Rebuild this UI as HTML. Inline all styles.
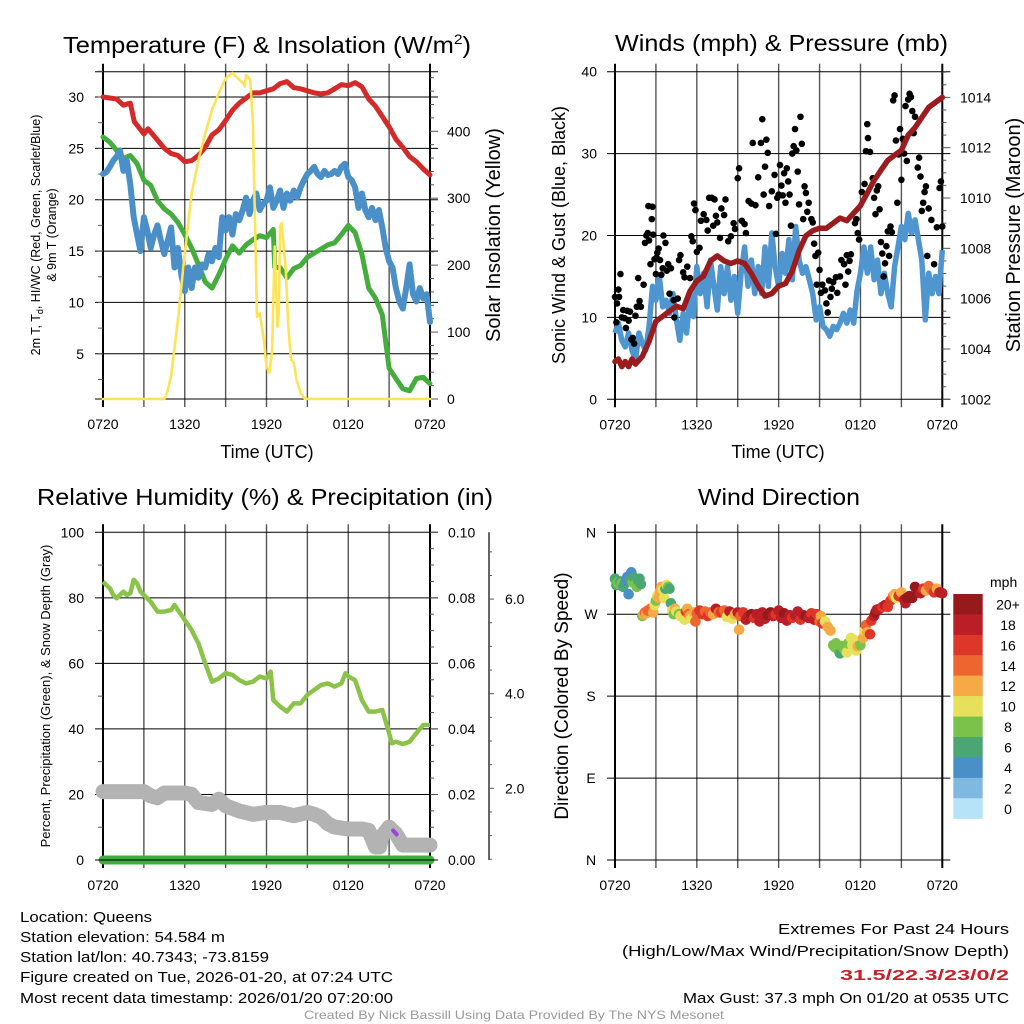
<!DOCTYPE html>
<html><head><meta charset="utf-8"><style>
html,body{margin:0;padding:0;background:#fff;}
svg{display:block;font-family:"Liberation Sans",sans-serif;}
</style></head><body>
<svg id="chart" width="1024" height="1024" viewBox="0 0 1024 1024" xmlns="http://www.w3.org/2000/svg"></svg>
<script>
// ---------- DATA ----------
const hourTicks = [0, 6, 12, 18, 24];
const hourTickLabels = ["0720", "1320", "1920", "0120", "0720"];
// Temperature panel
const tempTimes = [0,1,1.5,2,2.3,3,3.3,4,4.5,5,5.5,6,6.5,7,7.5,8,8.5,9,9.5,10,10.5,11,11.5,12,12.5,13,13.5,14,14.5,15,15.5,16,16.5,17,17.5,18,18.5,19,19.5,20,20.5,21,21.5,22,22.5,23,23.5,24];
const tempValues = [30,29.8,29.2,29.4,27.6,26.4,26.9,25.8,25,24.5,24.3,23.7,23.8,24.3,25.1,26.3,26.8,27.7,28.7,29.4,29.9,30.4,30.4,30.6,30.8,31.3,31.5,30.9,30.8,30.6,30.4,30.3,30.4,30.8,31.2,31.1,31.4,31.0,29.8,29.1,28.1,27.1,25.9,25.1,24.2,23.7,23.0,22.4];
const dewTimes = [0,0.5,1,1.5,2,2.5,3,3.5,4,4.5,5,5.5,6,6.5,7,7.5,8,8.5,9,9.5,10,10.5,11,11.5,12,12.5,12.6,13,13.5,14,14.5,15,15.5,16,16.5,17,17.5,18,18.5,19,19.5,20,20.5,21,21.5,22,22.5,23,23.5,24];
const dewValues = [26.1,25.6,24.8,24,24.3,23.5,21.9,21.4,19.9,19.1,18.6,17.8,16.6,15.3,13.7,12,11.4,12.7,14.2,15.5,14.8,15.6,16.1,16.5,16.3,17.1,13.4,13.4,12.4,13.3,13.6,14.4,14.8,15.2,15.6,15.8,16.6,17.5,16.8,14.7,11.4,10.4,8.8,3.6,2.6,1.6,1.4,2.6,2.7,2.1];
const chillValues = [22.5,22.7,23.2,23.8,24.2,24.8,22.8,23.8,21.5,18.3,16.6,15,18.3,17,15.3,16.6,17.5,16,14.7,16,17.3,13.4,15.3,12.7,11.1,13.4,11.4,13.4,12.4,13.7,13.4,14.7,14,15.3,14.4,18.3,17,18.3,16.6,18.6,18,19,20.2,18.6,19.9,20.6,19,19.6,19.9,21.2,19.2,19.9,20.9,19.2,20.6,19.9,20.9,20.2,21.2,21.9,22.5,22.8,23.2,22.5,22.2,22.8,22.4,22.5,22.8,22.5,23.2,23.5,22.2,21.9,21.2,19.2,20.6,19,18.3,19.2,18,19,17.3,15.3,14,13.4,11.4,10.1,9.4,11.4,13.7,10.8,10.1,11.4,10.4,10.8,8.1];
const solarTimes = [0,4.5,4.7,5,5.5,6,6.5,7,7.5,8,8.5,9,9.5,10,10.3,10.4,10.5,10.8,11,11.3,11.5,11.8,12,12.2,12.4,12.6,12.8,12.9,13,13.1,13.4,13.6,13.8,14,14.2,14.5,14.8,15,24];
const solarValues = [0,0,9,34,118,218,307,357,397,432,457,479,487,477,472,467,484,477,412,123,128,89,49,39,69,228,108,128,258,263,198,108,59,54,29,9,1,0,0];
// Wind panel
const presTimes = [0,0.25,0.5,0.75,1,1.25,1.5,2,2.5,3,3.5,4,4.5,5,5.5,6,6.5,7,7.5,8,8.5,9,9.5,10,10.5,11,11.5,12,12.5,13,13.5,14,14.5,15,15.5,16,16.5,17,17.5,18,18.5,19,19.5,20,20.5,21,21.5,22,22.5,23,23.5,24];
const presValues = [1003.5,1003.6,1003.3,1003.5,1003.3,1003.6,1003.4,1003.7,1004.3,1005.1,1005.3,1005.5,1005.7,1005.6,1006.3,1006.7,1006.9,1007.5,1007.7,1007.5,1007.4,1007.5,1007.4,1007.0,1006.5,1006.1,1006.2,1006.5,1006.6,1007.1,1007.9,1008.5,1008.7,1008.8,1008.8,1009.0,1009.2,1009.1,1009.4,1009.7,1010.2,1010.7,1011.1,1011.5,1011.7,1011.9,1012.5,1012.8,1013.2,1013.6,1013.8,1014.0];
const windValues = [8.1,9.3,7.2,6.4,8.1,6,4.8,8.1,6.8,6,8.9,13.8,12.1,15,11.3,12.1,10.5,12.9,9.7,7.2,10.5,8.1,12.9,10.1,16.2,12.9,15.4,11.3,17,13.8,10.9,16.2,12.9,16.2,12.1,15,10.5,15.4,18.6,13.8,17,12.9,16.2,12.9,18.6,13.8,20.3,16.2,13.8,17.8,15.4,19.5,14.6,21.1,17,15.4,16.2,14.6,12.9,9.7,11.3,8.9,8.5,7.7,8.9,8.5,9.3,10.5,9.3,10.9,9.3,13.3,15.4,18.6,15.4,18.6,14.6,17,12.9,15.4,12.9,11.3,16.2,18.6,21.1,19.5,22.7,20.3,21.9,19.5,17,9.7,15.4,12.9,15,12.9,18.2];
const gustTimes = [0,0.1,0.15,0.25,0.3,0.4,0.5,0.6,0.7,0.8,0.9,1.0,1.1,1.2,1.3,1.4,1.5,1.6,1.7,1.8,1.9,2.1,2.2,2.3,2.4,2.45,2.5,2.6,2.7,2.75,2.8,2.9,3.0,3.05,3.1,3.2,3.3,3.4,3.5,3.55,3.7,3.8,3.9,4.0,4.1,4.3,4.35,4.6,4.7,4.8,5.0,5.1,5.3,5.5,5.6,5.7,5.8,5.9,6.0,6.2,6.3,6.5,6.7,6.8,6.9,7.1,7.2,7.3,7.4,7.5,7.7,7.8,8.0,8.1,8.3,8.5,8.7,8.8,9.0,9.1,9.3,9.5,9.6,9.8,10.0,10.1,10.3,10.5,10.7,10.8,10.9,11.0,11.1,11.2,11.3,11.5,11.7,11.8,11.9,12.0,12.1,12.2,12.3,12.4,12.5,12.6,12.7,12.8,12.9,13.0,13.1,13.2,13.3,13.4,13.5,13.6,13.7,13.8,13.9,14.0,14.1,14.2,14.4,14.5,14.6,14.7,14.8,14.9,15.0,15.1,15.2,15.4,15.5,15.6,15.7,15.8,15.9,16.0,16.2,16.3,16.5,16.6,16.8,16.9,17.0,17.1,17.2,17.3,17.6,17.7,17.8,17.9,18.1,18.3,18.4,18.5,18.55,18.7,18.9,19.0,19.1,19.2,19.3,19.4,19.5,19.6,19.7,19.8,19.9,20.0,20.1,20.2,20.3,20.4,20.5,20.6,20.7,20.8,20.9,21.0,21.1,21.2,21.3,21.4,21.5,21.6,21.7,21.8,21.9,22.0,22.2,22.3,22.4,22.5,22.6,22.7,22.8,22.9,23.0,23.2,23.4,23.6,23.8,23.9,24.0];
const gustValues = [12.5,9.4,11.7,13.4,12.5,15.3,10.0,10.9,9.9,8.7,10.8,9.6,10.7,7.3,7.5,6.8,10.2,11.3,14.8,12.0,11.3,14.0,19.1,20.0,20.3,23.6,19.4,16.5,22.0,23.5,20.1,17.1,15.3,17.3,17.9,18.4,17.0,15.2,16.0,20.0,19.1,15.7,16.5,12.9,16.0,12.1,10.0,12.3,17.0,17.6,15.5,14.9,16.2,14.8,19.9,19.3,23.9,23.1,18.0,18.5,21.8,22.6,21.9,20.6,24.6,24.6,21.2,24.4,22.4,21.6,19.7,23.3,22.5,24.4,19.3,19.9,21.5,20.8,27.0,28.2,21.8,21.4,20.3,24.2,23.9,31.3,23.7,27.1,31.3,34.2,25.0,28.4,31.7,30.1,23.6,25.4,27.4,20.2,24.6,25.0,28.6,26.1,24.9,27.6,24.0,28.2,26.6,25.0,21.2,30.0,30.9,33.0,30.4,27.8,23.8,34.5,31.2,22.0,26.0,25.2,22.9,24.0,22.0,21.6,19.0,17.5,14.0,17.9,15.8,13.0,14.0,13.3,11.7,10.6,14.5,12.5,13.5,14.3,14.9,13.0,15.0,17.0,16.5,14.0,17.6,15.6,16.9,17.7,21.5,22.0,20.3,19.5,25.3,26.3,30.3,33.6,31.9,30.2,27.0,24.6,22.6,25.5,26.0,23.2,19.2,17.8,15.0,16.6,18.7,20.5,17.5,21.1,20.4,36.5,37.1,31.6,24.0,29.9,33.0,26.8,31.8,30.0,35.8,29.1,36.6,37.3,36.9,35.2,32.5,34.5,28.3,29.5,27.2,23.0,24.0,25.3,26.0,17.5,23.3,21.9,16.5,21.0,25.8,26.6,21.1];
// Humidity panel
const rhTimes = [0,0.25,0.5,0.75,1,1.25,1.5,1.75,2,2.25,2.5,2.75,3,3.5,4,4.5,5,5.25,5.5,6,6.5,7,7.5,8,8.5,9,9.5,10,10.5,11,11.5,12,12.3,12.5,13,13.5,14,14.5,15,15.5,16,16.5,17,17.5,17.8,18,18.5,19,19.5,20,20.5,21,21.2,21.5,22,22.5,23,23.5,24];
const rhValues = [84.9,83.9,82.9,80.9,79.9,80.9,81.9,80.9,81.4,85.5,84.4,81.9,80.9,78.8,75.8,75.8,76.3,77.8,76.3,73.2,70.2,66.1,60,54.4,55.4,57,56.5,54.9,53.9,54.4,56,55.4,57.5,48.8,46.8,45.3,47.8,47.8,50.4,51.9,53.4,53.9,52.9,53.9,57,56,54.9,48.8,45.3,45.3,45.8,38.7,35.6,36.1,35.4,36.1,38.7,41.2,41.2];
const snowTimes = [0,3,3.5,4,4.5,6,6.5,7,8,8.5,9,10,11,12,13,14,15,15.5,16,16.5,17,18,19,19.5,20,20.3,20.5,21,21.5,22,23,24];
const snowValues = [1.93,1.93,1.84,1.80,1.90,1.90,1.87,1.70,1.66,1.77,1.63,1.52,1.45,1.49,1.49,1.42,1.49,1.45,1.39,1.25,1.18,1.14,1.14,1.11,0.76,0.76,1.0,1.18,1.04,0.80,0.80,0.80];
const precipTimes = [0,24];
const precipValues = [0,0];
// Wind direction panel
const dirTimes = [0,0.1,0.2,0.3,0.4,0.5,0.6,0.7,0.8,0.9,1.0,1.1,1.2,1.3,1.4,1.5,1.6,1.7,1.8,1.9,2.0,2.1,2.2,2.3,2.4,2.6,2.8,2.9,3.0,3.1,3.2,3.3,3.4,3.5,3.6,3.7,3.8,3.9,4.0,4.1,4.2,4.3,4.4,4.5,4.7,4.8,5.0,5.1,5.2,5.3,5.4,5.5,5.6,5.8,5.9,6.0,6.2,6.4,6.6,6.8,7.0,7.2,7.4,7.6,7.8,8.0,8.2,8.4,8.6,8.8,9.0,9.1,9.2,9.4,9.6,9.8,10.0,10.2,10.4,10.6,10.8,11.0,11.2,11.4,11.6,11.8,12.0,12.2,12.4,12.6,12.8,13.0,13.2,13.4,13.6,13.8,14.0,14.2,14.4,14.6,14.8,15.0,15.1,15.2,15.4,15.6,15.8,16.0,16.1,16.2,16.4,16.5,16.6,16.8,17.0,17.1,17.3,17.4,17.5,17.7,17.8,18.0,18.2,18.3,18.4,18.5,18.7,18.8,19.0,19.1,19.2,19.4,19.6,19.8,20.0,20.2,20.4,20.5,20.6,20.8,21.0,21.2,21.3,21.4,21.6,21.8,22.0,22.2,22.4,22.6,22.8,23.0,23.2,23.4,23.6,23.8,24.0];
const dirValues = [309,302,305,303,306,304,300,303,307,311,292,309,316,305,310,303,300,307,309,303,268,270,272,271,274,276,272,280,285,290,288,295,300,297,288,298,302,300,298,282,274,270,276,273,270,268,266,264,273,276,270,268,265,272,262,271,274,270,273,268,272,270,276,272,272,274,267,273,265,270,272,253,268,272,264,268,270,266,270,262,272,265,269,272,268,270,274,266,271,263,269,266,269,273,264,269,268,266,271,264,270,262,268,260,262,256,252,236,234,238,230,227,235,232,228,238,244,236,242,230,235,236,244,252,258,250,248,263,268,272,275,276,278,280,278,285,290,292,288,290,294,286,282,288,290,288,300,296,293,298,296,301,297,294,298,294,293];
const dirSpeeds = [7,7,8,8,6,8,6,6,4,4,4,6,4,8,6,8,8,6,6,6,8,12,14,12,14,14,12,10,8,10,12,12,12,10,10,6,10,8,6,6,10,8,12,10,8,10,10,10,16,12,14,12,10,12,14,14,16,16,14,16,14,12,18,14,16,14,10,18,10,12,18,12,14,16,18,18,20,16,18,18,18,18,20,20,18,16,18,18,20,18,18,16,18,18,16,18,20,18,16,18,16,14,12,16,10,12,12,8,8,8,8,6,8,8,10,8,10,10,10,10,12,8,12,10,14,12,16,16,18,20,18,18,16,18,16,16,14,12,10,16,12,18,18,20,20,20,20,20,18,16,12,14,14,16,12,18,18];
const speedBinLabels = ["20+","18","16","14","12","10","8","6","4","2","0"];
const speedBinColors = ["#961a1c","#bb1e26","#dd3729","#ee6530","#f6a944","#e6e05a","#7bc24a","#4aa672","#4a8fc8","#7fb9e2","#b6e3f7"];

// ---------- HELPERS ----------
const NS = "http://www.w3.org/2000/svg";
const svg = document.getElementById("chart");
function mk(tag, attrs, parent, text) {
  const e = document.createElementNS(NS, tag);
  for (const k in attrs) e.setAttribute(k, attrs[k]);
  if (text !== undefined) e.textContent = text;
  (parent || svg).appendChild(e);
  return e;
}
function lin(d0, d1, r0, r1) { return v => r0 + (v - d0) * (r1 - r0) / (d1 - d0); }
function pathD(xs, ys, fx, fy) {
  return xs.map((t, i) => (i ? "L" : "M") + fx(t).toFixed(1) + "," + fy(ys[i]).toFixed(1)).join("");
}
function qTimes(n) { const a = []; for (let i = 0; i < n; i++) a.push(i * 0.25); return a; }

function panelFrame(g, L, R, T, B, yTicks, fy, yMinor, fyMinor, gridYs) {
  const xs = lin(0, 24, L, R);
  for (let h = 0; h <= 24; h += 3) {
    const x = xs(h);
    const ln = mk("line", {x1: x, x2: x, y1: T - 8, y2: B + 8, stroke: (h === 0 || h === 24) ? "#000" : "#555", "stroke-width": (h === 0 || h === 24) ? 2 : 1.4}, g);
    
    
  }
  gridYs.forEach(v => {
    const y = fy(v);
    const ln = mk("line", {x1: L - 8, x2: R + 8, y1: y, y2: y, stroke: "#000", "stroke-width": 1}, g);
    
    
  });
  mk("line", {x1: L - 8, x2: R + 8, y1: T, y2: T, stroke: "#000", "stroke-width": 1}, g);
  mk("line", {x1: L - 8, x2: R + 8, y1: B, y2: B, stroke: "#000", "stroke-width": 1}, g);
  yMinor.forEach(v => { const y = fyMinor(v); mk("line", {x1: L - 5, x2: L, y1: y, y2: y, stroke: "#555", "stroke-width": 1}, g); });
  hourTicks.forEach((h, i) => {
    const t = mk("text", {x: xs(h), y: B + 30, "font-size": 14, "text-anchor": "middle"}, g, hourTickLabels[i]);
    
    
  });
  return xs;
}

// ---------- TITLES ----------
function title(x, y, txt, len, name) {
  const t = mk("text", {x: x, y: y, "font-size": 23, textLength: len, lengthAdjust: "spacingAndGlyphs"}, svg);
  t.innerHTML = txt;
  
  
}
title(63, 53, 'Temperature (F) &amp; Insolation (W/m<tspan font-size="14" dy="-9">2</tspan><tspan dy="9">)</tspan>', 408, "temperature-panel-title");
title(615, 51, 'Winds (mph) &amp; Pressure (mb)', 333, "wind-panel-title");
title(37, 505, 'Relative Humidity (%) &amp; Precipitation (in)', 456, "humidity-panel-title");
title(698, 505, 'Wind Direction', 162, "wind-direction-panel-title");

function rotText(x, y, txt, size, name, len) {
  const a = {x: 0, y: 0, "font-size": size, "text-anchor": "middle", transform: `translate(${x},${y}) rotate(-90)`};
  if (len) { a.textLength = len; a.lengthAdjust = "spacingAndGlyphs"; }
  const t = mk("text", a, svg);
  t.innerHTML = txt;
  
  
}
function plainText(x, y, txt, size, anchor, name, extra) {
  const a = Object.assign({x: x, y: y, "font-size": size, "text-anchor": anchor}, extra || {});
  const t = mk("text", a, svg, txt);
  
  
  return t;
}

// ---------- PANEL 1: Temperature ----------
(function () {
  const g = mk("g", {});  
  const L = 103, R = 430, T = 71.7, B = 399;
  const fy = lin(0.6, 32.46, B, T);
  const fs = lin(0, 489, B, T);
  const minor = []; for (let v = 2.5; v <= 32.5; v += 2.5) minor.push(v);
  const xs = panelFrame(g, L, R, T, B, [], fy, minor, fy, [5, 10, 15, 20, 25, 30]);
  [5, 10, 15, 20, 25, 30].forEach(v => {
    const t = mk("text", {x: 84, y: fy(v) + 5, "font-size": 14, "text-anchor": "end"}, g, String(v));
     
  });
  for (let v = 0; v <= 480; v += 20) { const y = fs(v); mk("line", {x1: R, x2: R + (v % 100 ? 4 : 8), y1: y, y2: y, stroke: "#555"}, g); }
  [0, 100, 200, 300, 400].forEach(v => {
    const t = mk("text", {x: 447, y: fs(v) + 5, "font-size": 14}, g, String(v));
     
  });
  const lines = [
    [tempTimes, tempValues, "#d42a2a", 5, fy, "temperature-line"],
    [dewTimes, dewValues, "#44ad3d", 5, fy, "dewpoint-line"],
    [qTimes(chillValues.length), chillValues, "#4a8fc8", 6, fy, "wind-chill-line"],
    [solarTimes, solarValues, "#fde456", 2.6, fs, "solar-insolation-line"]
  ];
  lines.forEach(l => {
    const p = mk("path", {d: pathD(l[0], l[1], xs, l[4]), fill: "none", stroke: l[2], "stroke-width": l[3], "stroke-linejoin": "round", "stroke-linecap": "round"}, g);
     
  });
  plainText(267, 458, "Time (UTC)", 18, "middle", "temperature-x-axis-title");
})();
rotText(40, 235, "2m T, T<tspan font-size=\"9\" dy=\"3\">d</tspan><tspan dy=\"-3\">, HI/WC (Red, Green, Scarlet/Blue)</tspan>", 12.5, "temperature-y-axis-title");
rotText(56, 235, "&amp; 9m T (Orange)", 12.5, "temperature-y-axis-title-line2");
rotText(500, 235, "Solar Insolation (Yellow)", 20, "insolation-y-axis-title");

// ---------- PANEL 2: Winds ----------
(function () {
  const g = mk("g", {});  
  const L = 615, R = 942.3, T = 71.7, B = 399.3;
  const fy = lin(0, 40, B, T);
  const fp = lin(1002, 1015.02, B, T);
  const xs = panelFrame(g, L, R, T, B, [], fy, [], fy, [10, 20, 30]);
  [0, 10, 20, 30, 40].forEach(v => {
    const t = mk("text", {x: 597, y: fy(v) + 5, "font-size": 14, "text-anchor": "end"}, g, String(v));
     
  });
  for (let v = 1002; v <= 1015; v += 0.5) { const y = fp(v); mk("line", {x1: R, x2: R + (v % 2 ? 4 : 8), y1: y, y2: y, stroke: "#555"}, g); }
  [1002, 1004, 1006, 1008, 1010, 1012, 1014].forEach(v => {
    const t = mk("text", {x: 960, y: fp(v) + 5, "font-size": 14}, g, String(v));
     
  });
  const wl = mk("path", {d: pathD(qTimes(windValues.length), windValues, xs, fy), fill: "none", stroke: "#4f96d0", "stroke-width": 5.5, "stroke-linejoin": "round"}, g);
   
  gustTimes.forEach((t, i) => {
    const c = mk("circle", {cx: xs(t), cy: fy(gustValues[i]), r: 3.3, fill: "#000"}, g);
     
  });
  const pl = mk("path", {d: pathD(presTimes, presValues, xs, fp), fill: "none", stroke: "#9a1c1f", "stroke-width": 5.5, "stroke-linejoin": "round", "stroke-linecap": "round"}, g);
   
  plainText(778, 458, "Time (UTC)", 18, "middle", "wind-x-axis-title");
})();
rotText(565, 235, "Sonic Wind &amp; Gust (Blue, Black)", 18, "wind-y-axis-title");
rotText(1020, 235, "Station Pressure (Maroon)", 20, "pressure-y-axis-title");

// ---------- PANEL 3: Humidity ----------
(function () {
  const g = mk("g", {});  
  const L = 103, R = 430, T = 532.3, B = 860;
  const fy = lin(0, 100, B, T);
  const fpr = lin(0, 0.1, B, T);
  const fsn = lin(0, 2, 882.9, 788.3);
  const minor = []; for (let v = 10; v < 100; v += 20) minor.push(v);
  const xs = panelFrame(g, L, R, T, B, [], fy, minor, fy, [20, 40, 60, 80]);
  [0, 20, 40, 60, 80, 100].forEach(v => {
    const t = mk("text", {x: 84, y: fy(v) + 5, "font-size": 14, "text-anchor": "end"}, g, String(v));
     
  });
  for (let v = 0; v <= 100; v += 5) { const y = fy(v); mk("line", {x1: R, x2: R + (v % 20 ? 4 : 8), y1: y, y2: y, stroke: "#555"}, g); }
  ["0.00", "0.02", "0.04", "0.06", "0.08", "0.10"].forEach((s, i) => {
    const t = mk("text", {x: 448, y: fpr(i * 0.02) + 5, "font-size": 14}, g, s);
     
  });
  const ax = mk("line", {x1: 489, x2: 489, y1: T, y2: B, stroke: "#000", "stroke-width": 1.2}, g);
   
  for (let v = 0.5; v <= 7.4; v += 0.5) { const y = fsn(v); mk("line", {x1: 489, x2: 489 + (v % 2 ? 3 : 5), y1: y, y2: y, stroke: "#555"}, g); }
  ["2.0", "4.0", "6.0"].forEach((s, i) => {
    const t = mk("text", {x: 505, y: fsn((i + 1) * 2) + 5, "font-size": 14}, g, s);
     
  });
  const sn = mk("path", {d: pathD(snowTimes, snowValues, xs, fsn), fill: "none", stroke: "#b3b3b3", "stroke-width": 15, "stroke-linejoin": "round", "stroke-linecap": "round"}, g);
   
  const pp = mk("path", {d: pathD(precipTimes, precipValues, xs, fpr), fill: "none", stroke: "#3fae3f", "stroke-width": 9, "stroke-linecap": "round"}, g);
   
  mk("line", {x1: L - 8, x2: R + 8, y1: B, y2: B, stroke: "#000", "stroke-width": 1}, g);
  const rh = mk("path", {d: pathD(rhTimes, rhValues, xs, fy), fill: "none", stroke: "#8bc34a", "stroke-width": 4.5, "stroke-linejoin": "round"}, g);
   
  const pu = mk("path", {d: "M" + xs(21.3) + "," + fy(9) + "L" + xs(21.55) + "," + fy(7.8), stroke: "#a040e0", "stroke-width": 4, "stroke-linecap": "round"}, g);
   
})();
rotText(50, 696, "Percent, Precipitation (Green), &amp; Snow Depth (Gray)", 13, "humidity-y-axis-title");

// ---------- PANEL 4: Wind Direction ----------
(function () {
  const g = mk("g", {});  
  const L = 615, R = 942.3, T = 532.3, B = 860;
  const fy = lin(0, 360, B, T);
  const xs = panelFrame(g, L, R, T, B, [], fy, [], fy, [90, 180, 270]);
  ["N", "E", "S", "W", "N"].forEach((s, i) => {
    const t = mk("text", {x: 591, y: fy(i * 90) + 5, "font-size": 14, "text-anchor": "middle"}, g, s);
     
  });
  dirTimes.forEach((t, i) => {
    const bin = Math.min(10, Math.floor(dirSpeeds[i] / 2));
    const c = mk("circle", {cx: xs(t), cy: fy(dirValues[i]), r: 5.3, fill: speedBinColors[10 - bin]}, g);
     
  });
  const lg = mk("g", {});  
  speedBinLabels.forEach((s, i) => {
    const y = 594 + i * 20.43;
    const r = mk("rect", {x: 953.3, y: y, width: 29.4, height: 20.6, fill: speedBinColors[i]}, lg);
     
    const t = mk("text", {x: 1008, y: y + 15.5, "font-size": 14, "text-anchor": "middle"}, lg, s);
     
  });
  const u = mk("text", {x: 990, y: 587, "font-size": 14}, lg, "mph");
   
})();
rotText(568, 696, "Direction (Colored By Speed)", 19, "direction-y-axis-title");

// ---------- FOOTER ----------
const fo = {lengthAdjust: "spacingAndGlyphs"};
plainText(20, 922, "Location: Queens", 15, "start", "location-text", Object.assign({textLength: 132}, fo));
plainText(20, 942, "Station elevation: 54.584 m", 15, "start", "elevation-text", Object.assign({textLength: 205}, fo));
plainText(20, 962, "Station lat/lon: 40.7343; -73.8159", 15, "start", "latlon-text", Object.assign({textLength: 249}, fo));
plainText(20, 982, "Figure created on Tue, 2026-01-20, at 07:24 UTC", 15, "start", "created-text", Object.assign({textLength: 373}, fo));
plainText(20, 1003, "Most recent data timestamp: 2026/01/20 07:20:00", 15, "start", "timestamp-text", Object.assign({textLength: 373}, fo));
plainText(1009, 934, "Extremes For Past 24 Hours", 15, "end", "extremes-title", Object.assign({textLength: 231}, fo));
plainText(1009, 956, "(High/Low/Max Wind/Precipitation/Snow Depth)", 15, "end", "extremes-subtitle", Object.assign({textLength: 387}, fo));
plainText(1009, 980, "31.5/22.3/23/0/2", 15, "end", "extremes-values", Object.assign({textLength: 169, fill: "#c8202a", "font-weight": "bold"}, fo));
plainText(1009, 1003, "Max Gust: 37.3 mph On 01/20 at 0535 UTC", 15, "end", "max-gust-text", Object.assign({textLength: 326}, fo));
plainText(514, 1019, "Created By Nick Bassill Using Data Provided By The NYS Mesonet", 12, "middle", "credit-text", Object.assign({textLength: 420, fill: "#999"}, fo));
</script>
</body></html>
